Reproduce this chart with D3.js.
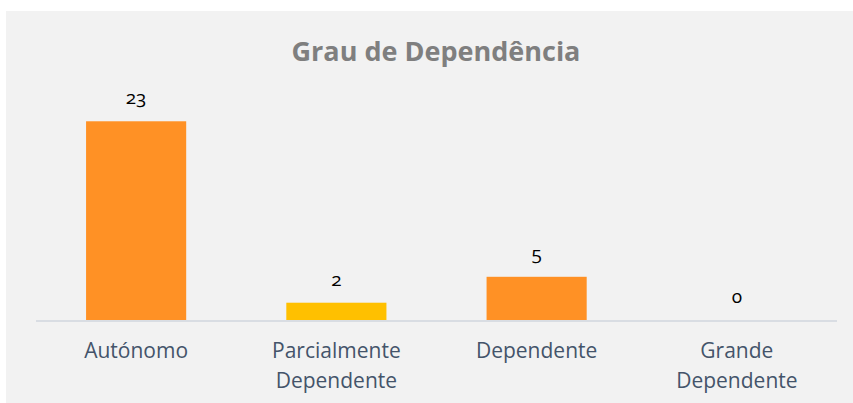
<!DOCTYPE html>
<html lang="pt">
  <head>
    <meta charset="utf-8">
    <title>Grau de Dependência</title>
    <script type="text/javascript" src="https://d3js.org/d3.v7.min.js"></script>
    <style type="text/css">
      body {
        margin: 0;
        background: #ffffff;
      }

      .title {
        font-family: "Open Sans", sans-serif;
        font-size: 27px;
        font-weight: 700;
        fill: #7f7f7f;
        text-anchor: middle;
      }

      .value {
        font-family: "Open Sans", sans-serif;
        font-size: 19px;
        font-variant-numeric: oldstyle-nums;
        fill: #000000;
        text-anchor: middle;
      }

      .cat {
        font-family: "Open Sans", sans-serif;
        font-size: 21px;
        fill: #44546a;
        text-anchor: middle;
      }

      .baseline {
        stroke: #d9dde3;
        stroke-width: 2;
      }
    </style>
  </head>

  <body>
    <div id="chart"></div>
    <script type="text/javascript">

    // data
    const categories = ['Autónomo', 'Parcialmente Dependente', 'Dependente', 'Grande Dependente'];
    const labelLines = [['Autónomo'], ['Parcialmente', 'Dependente'], ['Dependente'], ['Grande', 'Dependente']];
    const counts = [23, 2, 5, 0];
    const barColors = ['#ff9125', '#ffc000', '#ff9125', '#ff9125'];

    // layout
    const width = 853;
    const height = 403;

    const margin = {
      top: 104,
      right: 16,
      bottom: 83,
      left: 36
    };

    const svg = d3.select('#chart')
      .append('svg')
      .attr('width', width)
      .attr('height', height);

    // chart area background
    svg.append('rect')
      .attr('x', 6)
      .attr('y', 11)
      .attr('width', width - 6)
      .attr('height', height - 11)
      .attr('fill', '#f2f2f2');

    svg.append('text')
      .attr('class', 'title')
      .attr('x', 436)
      .attr('y', 61)
      .text('Grau de Dependência');

    // scales
    const xScale = d3.scaleBand()
      .domain(categories)
      .range([margin.left, width - margin.right])
      .paddingInner(0.5)
      .paddingOuter(0.25);

    const yScale = d3.scaleLinear()
      .domain([0, 25])
      .range([height - margin.bottom, margin.top]);

    const rows = categories.map((c, i) => ({cat: c, value: counts[i], color: barColors[i], lines: labelLines[i]}));

    // bars
    svg.append('g')
      .selectAll('rect')
      .data(rows)
      .enter()
      .append('rect')
      .attr('x', d => xScale(d.cat))
      .attr('y', d => yScale(d.value))
      .attr('width', xScale.bandwidth())
      .attr('height', d => yScale(0) - yScale(d.value))
      .attr('fill', d => d.color);

    // baseline
    svg.append('line')
      .attr('class', 'baseline')
      .attr('x1', margin.left)
      .attr('x2', width - margin.right)
      .attr('y1', yScale(0) + 1)
      .attr('y2', yScale(0) + 1);

    // value labels
    svg.append('g')
      .selectAll('text')
      .data(rows)
      .enter()
      .append('text')
      .attr('class', 'value')
      .attr('x', d => xScale(d.cat) + xScale.bandwidth() / 2)
      .attr('y', d => yScale(d.value) - 17)
      .text(d => d.value);

    // category labels
    const cats = svg.append('g')
      .selectAll('text')
      .data(rows)
      .enter()
      .append('text')
      .attr('class', 'cat')
      .attr('x', d => xScale(d.cat) + xScale.bandwidth() / 2)
      .attr('y', yScale(0) + 38);

    cats.selectAll('tspan')
      .data(d => d.lines)
      .enter()
      .append('tspan')
      .attr('x', function() { return d3.select(this.parentNode).attr('x'); })
      .attr('dy', (d, i) => i === 0 ? 0 : 30)
      .text(d => d);

    </script>
  </body>
</html>
